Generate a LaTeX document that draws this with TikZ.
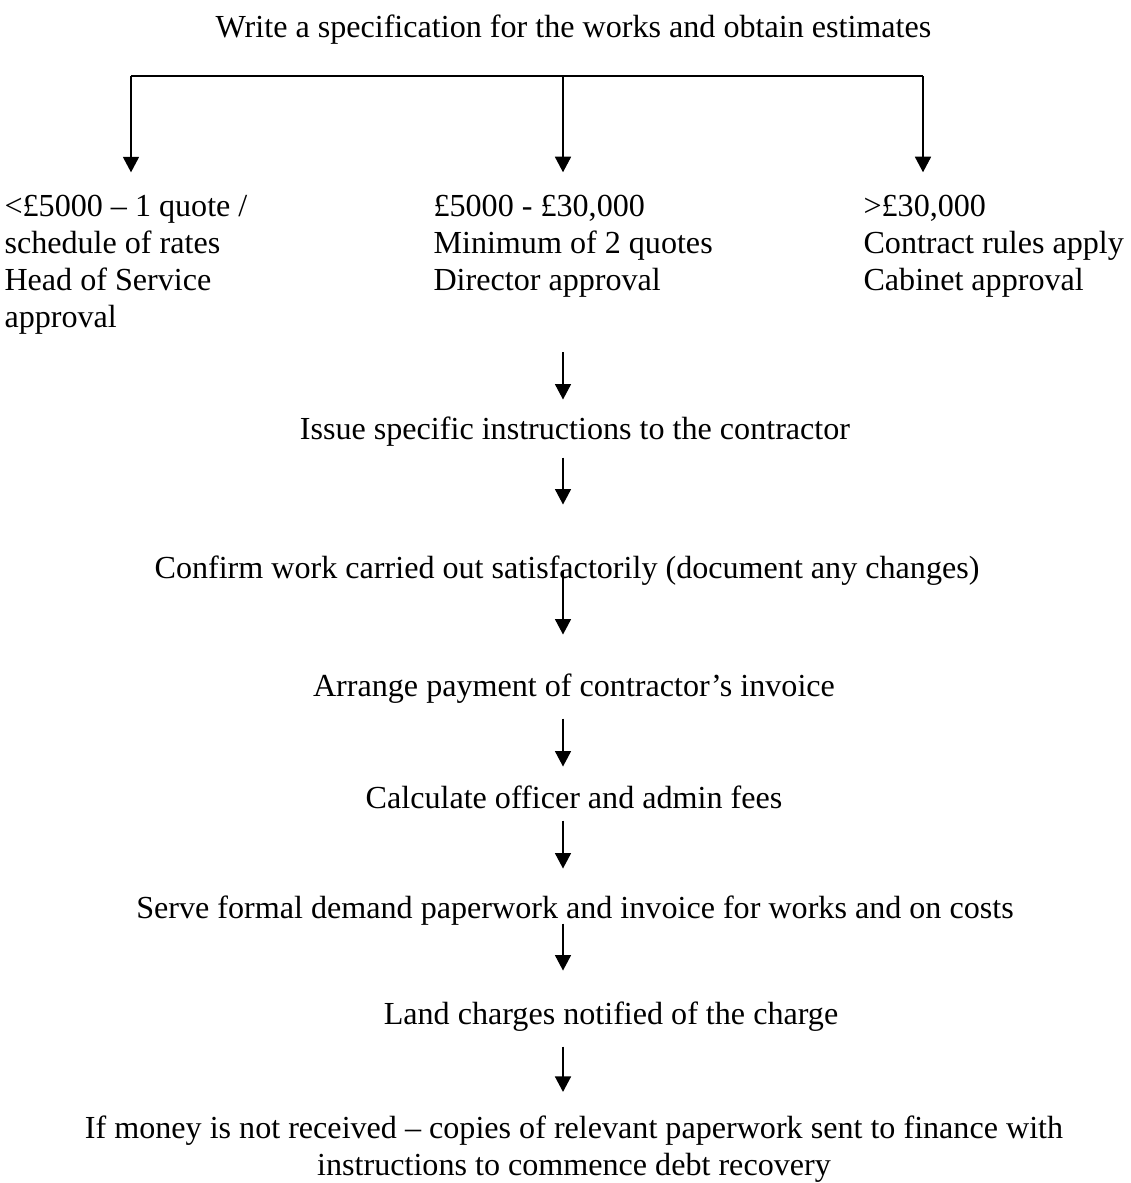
\documentclass[tikz,border=0pt]{standalone}
\usepackage{fontspec}
\setmainfont{Liberation Serif}
\usetikzlibrary{arrows.meta,positioning}
\newcommand{\px}{0.3737pt}

\begin{document}
\begin{tikzpicture}[x=\px,y=-\px,
    every node/.style={inner sep=0pt,font=\fontsize{12}{13.8}\selectfont},
    stepline/.style={anchor=base,text height=8.2pt,text depth=2.6pt},
    flow/.style={line width=0.55pt,-{Triangle[length=5.8pt,width=6pt]}}]
\useasboundingbox (0,0) rectangle (1131,1183);

\node[anchor=base] (spec) at (573.5,37) {Write a specification for the works and obtain estimates};

% the three cost bands (base = last line)
\node[anchor=base west,align=left] (low) at (4,327) {<£5000 – 1 quote /\\schedule of rates\\Head of Service\\approval};
\node[anchor=base west,align=left] (mid) at (433,290) {£5000 - £30,000\\Minimum of 2 quotes\\Director approval};
\node[anchor=base west,align=left] (high) at (863,290) {>£30,000\\Contract rules apply\\Cabinet approval};

\coordinate (bl) at (131,76);
\coordinate (bm) at (563,76);
\coordinate (br) at (923,76);
\draw[line width=0.55pt] (bl) -- (br);
\foreach \c/\n in {bl/low,bm/mid,br/high}
    \draw[flow,shorten >=22*\px] (\c) -- (\c |- \n.north);

% steps after approval
\node[stepline] (issue) at (575,439) {Issue specific instructions to the contractor};
\node[stepline] (confirm) at (567,578) {Confirm work carried out satisfactorily (document any changes)};
\node[stepline] (arrange) at (574,696) {Arrange payment of contractor’s invoice};
\node[stepline] (calc) at (574,808) {Calculate officer and admin fees};
\node[stepline] (serve) at (575,918) {Serve formal demand paperwork and invoice for works and on costs};
\node[stepline] (land) at (611,1024) {Land charges notified of the charge};
\node[anchor=base,align=center] (debt) at (574,1175) {If money is not received – copies of relevant paperwork sent to finance with\\instructions to commence debt recovery};

\coordinate (ax) at (563,0);
\foreach \a/\b/\s/\e in {mid/issue/55/17,issue/confirm/11/51,confirm/arrange/-15/39,arrange/calc/15/19,calc/serve/5/27,serve/land/-2/31,land/debt/15/23}
    \draw[flow,shorten <=\s*\px,shorten >=\e*\px] (\a.south -| ax) -- (\b.north -| ax);
\end{tikzpicture}
\end{document}
